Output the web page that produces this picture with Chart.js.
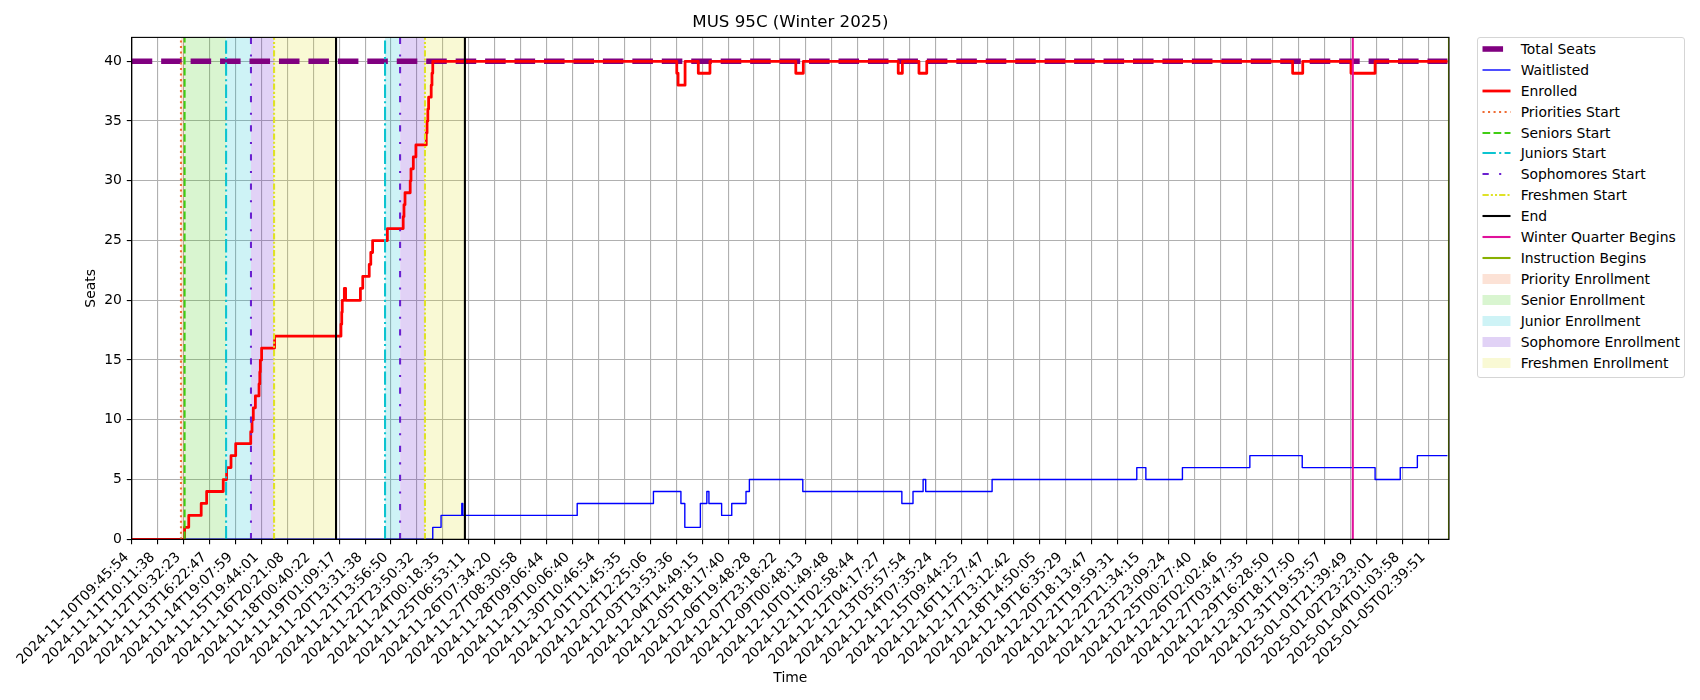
<!DOCTYPE html>
<html>
<head>
<meta charset="utf-8">
<title>MUS 95C (Winter 2025)</title>
<script src="https://cdn.jsdelivr.net/npm/chart.js@4/dist/chart.umd.js"></script>
<style>
  html, body { margin: 0; padding: 0; background: #fff; }
  #wrap { position: relative; width: 1700px; height: 700px; overflow: hidden; }
  #legend {
    position: absolute; left: 1476.7px; top: 37.3px; width: 206.5px; height: 338.5px;
    border: 1px solid #d5d5d5; border-radius: 3px; background: #fff;
    font: 13.9px "DejaVu Sans", sans-serif; color: #000;
  }
  .row { display: flex; align-items: center; height: 20.95px; padding-left: 4px; white-space: nowrap; }
  .row svg { flex: none; width: 29px; height: 12px; margin-right: 10px; }
</style>
</head>
<body>
<div id="wrap">
  <canvas id="chart" width="1700" height="700"></canvas>
  <div id="legend"></div>
</div>
<script>
// x values are positions along the axis, counted in tick labels (0 = first label)
const tickLabels = [
  '2024-11-10T09:45:54', '2024-11-11T10:11:38', '2024-11-12T10:32:23', '2024-11-13T16:22:47',
  '2024-11-14T19:07:59', '2024-11-15T19:44:01', '2024-11-16T20:21:08', '2024-11-18T00:40:22',
  '2024-11-19T01:09:17', '2024-11-20T13:31:38', '2024-11-21T13:56:50', '2024-11-22T23:50:32',
  '2024-11-24T00:18:35', '2024-11-25T06:53:11', '2024-11-26T07:34:20', '2024-11-27T08:30:58',
  '2024-11-28T09:06:44', '2024-11-29T10:06:40', '2024-11-30T10:46:54', '2024-12-01T11:45:35',
  '2024-12-02T12:25:06', '2024-12-03T13:53:36', '2024-12-04T14:49:15', '2024-12-05T18:17:40',
  '2024-12-06T19:48:28', '2024-12-07T23:18:22', '2024-12-09T00:48:13', '2024-12-10T01:49:48',
  '2024-12-11T02:58:44', '2024-12-12T04:17:27', '2024-12-13T05:57:54', '2024-12-14T07:35:24',
  '2024-12-15T09:44:25', '2024-12-16T11:27:47', '2024-12-17T13:12:42', '2024-12-18T14:50:05',
  '2024-12-19T16:35:29', '2024-12-20T18:13:47', '2024-12-21T19:59:31', '2024-12-22T21:34:15',
  '2024-12-23T23:09:24', '2024-12-25T00:27:40', '2024-12-26T02:02:46', '2024-12-27T03:47:35',
  '2024-12-29T16:28:50', '2024-12-30T18:17:50', '2024-12-31T19:53:57', '2025-01-01T21:39:49',
  '2025-01-02T23:23:01', '2025-01-04T01:03:58', '2025-01-05T02:39:51',
];

const xEnd = 50.8;
const lastSample = 50.74;
const totalSeats = 40;
const yTop = 42;

const enrolledX = [
  0, 2.04, 2.20, 2.68, 2.89, 3.53, 3.66, 3.83, 4.01, 4.59, 4.64, 4.69, 4.77, 4.91, 4.94, 4.96, 5.01, 5.51,
  8.07, 8.10, 8.12, 8.20, 8.25, 8.82, 8.91, 9.16, 9.22, 9.29, 9.86, 10.47, 10.50, 10.54, 10.74, 10.77, 10.86, 10.96,
  11.36, 11.39, 11.42, 11.45, 11.55, 11.58, 11.61, 21.02, 21.07, 21.34, 21.85, 22.30, 25.61, 25.90,
  29.56, 29.72, 30.36, 30.66, 44.77, 45.16, 47.02, 47.95, 50.74,
];
const enrolledY = [
  0, 1, 2, 3, 4, 5, 6, 7, 8, 9, 10, 11, 12, 13, 14, 15, 16, 17,
  18, 19, 20, 21, 20, 21, 22, 23, 24, 25, 26, 27, 28, 29, 30, 31, 32, 33,
  34, 35, 36, 37, 38, 39, 40, 39, 38, 40, 39, 40, 39, 40,
  39, 40, 39, 40, 39, 40, 39, 40, 40,
];

const waitlistX = [
  0, 11.61, 11.93, 12.73, 12.77, 17.18, 20.12, 21.18, 21.33, 21.93, 22.18, 22.26, 22.75, 23.14, 23.69, 23.82,
  25.88, 29.70, 30.13, 30.52, 30.62, 33.18, 38.76, 39.11, 40.52, 43.12, 45.14, 47.95, 48.92, 49.58, 50.74,
];
const waitlistY = [
  0, 1, 2, 3, 2, 3, 4, 3, 1, 3, 4, 3, 2, 3, 4, 5,
  4, 3, 4, 5, 4, 5, 6, 5, 6, 7, 6, 5, 6, 7, 7,
];

const prioritiesStart = [1.90];
const seniorsStart = [2.04];
const juniorsStart = [3.64, 9.77];
const sophomoresStart = [4.60, 10.35];
const freshmenStart = [5.49, 11.31];
const endMarks = [7.88, 12.85];
const winterBegins = [47.09];
const instructionBegins = [xEnd];

const ORANGE = '#ef6c33';
const GREEN = '#41cd14';
const CYAN = '#0cc4d0';
const VIOLET = '#6a20d0';
const YELLOW = '#dfe227';
const LW_MARK = 2.08;

const STYLES = {
  'Total Seats': { color: '#800080', width: 5.56, dash: [20.56, 8.89] },
  'Waitlisted': { color: '#0000ff', width: 1.39, dash: [] },
  'Enrolled': { color: '#ff0000', width: 2.78, dash: [] },
  'Priorities Start': { color: ORANGE, width: LW_MARK, dash: [2.08, 3.44] },
  'Seniors Start': { color: GREEN, width: LW_MARK, dash: [7.71, 3.33] },
  'Juniors Start': { color: CYAN, width: LW_MARK, dash: [13.33, 3.33, 2.08, 3.33] },
  'Sophomores Start': { color: VIOLET, width: LW_MARK, dash: [6.25, 10.4, 2.08, 10.4] },
  'Freshmen Start': { color: YELLOW, width: LW_MARK, dash: [6.25, 2.08, 2.08, 2.08, 2.08, 2.08] },
  'End': { color: '#000000', width: LW_MARK, dash: [] },
  'Winter Quarter Begins': { color: '#e0109a', width: LW_MARK, dash: [] },
  'Instruction Begins': { color: '#88b000', width: LW_MARK, dash: [] },
};
const SPAN_COLORS = {
  'Priority Enrollment': 'rgba(239,108,51,0.2)',
  'Senior Enrollment': 'rgba(65,205,20,0.2)',
  'Junior Enrollment': 'rgba(12,196,208,0.2)',
  'Sophomore Enrollment': 'rgba(106,32,208,0.2)',
  'Freshmen Enrollment': 'rgba(223,226,39,0.2)',
};

function lineSet(name, points, stepped) {
  const s = STYLES[name];
  return {
    label: name, data: points, borderColor: s.color, borderWidth: s.width, borderDash: s.dash,
    stepped: !!stepped, pointRadius: 0, fill: false, borderJoinStyle: 'round',
  };
}
function stepPoints(xs, ys) {
  return xs.map((x, i) => ({ x, y: ys[i] }));
}
function vlineSets(name, xs) {
  return xs.map((x) => lineSet(name, [{ x, y: 0 }, { x, y: yTop }]));
}
function spanSet(name, from, to) {
  return {
    label: name, data: [{ x: from, y: yTop }, { x: to, y: yTop }],
    borderWidth: 0, pointRadius: 0, fill: 'origin', backgroundColor: SPAN_COLORS[name],
  };
}

// list order = draw order, bottom first
const datasets = [
  spanSet('Priority Enrollment', prioritiesStart[0], seniorsStart[0]),
  spanSet('Senior Enrollment', seniorsStart[0], juniorsStart[0]),
  spanSet('Junior Enrollment', juniorsStart[0], sophomoresStart[0]),
  spanSet('Sophomore Enrollment', sophomoresStart[0], freshmenStart[0]),
  spanSet('Freshmen Enrollment', freshmenStart[0], endMarks[0]),
  spanSet('Junior Enrollment', juniorsStart[1], sophomoresStart[1]),
  spanSet('Sophomore Enrollment', sophomoresStart[1], freshmenStart[1]),
  spanSet('Freshmen Enrollment', freshmenStart[1], endMarks[1]),
  lineSet('Total Seats', [{ x: 0, y: totalSeats }, { x: lastSample, y: totalSeats }]),
  lineSet('Waitlisted', stepPoints(waitlistX, waitlistY), true),
  lineSet('Enrolled', stepPoints(enrolledX, enrolledY), true),
  ...vlineSets('Priorities Start', prioritiesStart),
  ...vlineSets('Seniors Start', seniorsStart),
  ...vlineSets('Juniors Start', juniorsStart),
  ...vlineSets('Sophomores Start', sophomoresStart),
  ...vlineSets('Freshmen Start', freshmenStart),
  ...vlineSets('End', endMarks),
  ...vlineSets('Winter Quarter Begins', winterBegins),
  ...vlineSets('Instruction Begins', instructionBegins),
];
datasets.forEach((d, i) => { d.order = datasets.length - i; });

// top and right spines, chart.js only draws the axis borders
const framePlugin = {
  id: 'frame',
  afterDatasetsDraw(chart) {
    const { ctx, chartArea: a } = chart;
    ctx.save();
    ctx.strokeStyle = '#000';
    ctx.lineWidth = 1.11;
    ctx.strokeRect(a.left, a.top, a.right - a.left, a.bottom - a.top);
    ctx.restore();
  },
};

Chart.defaults.font.family = "'DejaVu Sans', sans-serif";
Chart.defaults.font.size = 13.9;
Chart.defaults.color = '#000';

new Chart(document.getElementById('chart'), {
  type: 'line',
  data: { datasets },
  plugins: [framePlugin],
  options: {
    responsive: false,
    animation: false,
    layout: { padding: { left: 80, right: 251, top: 0, bottom: 10 } },
    plugins: {
      legend: { display: false },
      tooltip: { enabled: false },
      title: {
        display: true, text: 'MUS 95C (Winter 2025)', fullSize: false,
        font: { size: 16.67, weight: 'normal' }, padding: { top: 12.7, bottom: 4.7 },
      },
    },
    scales: {
      x: {
        type: 'linear', min: 0, max: xEnd,
        afterBuildTicks: (scale) => { scale.ticks = tickLabels.map((_, i) => ({ value: i })); },
        afterFit: (scale) => { scale.height = 150.7; },
        ticks: {
          autoSkip: false, minRotation: 45, maxRotation: 45, padding: 5, labelOffset: -5,
          callback: (v) => tickLabels[v],
        },
        grid: { color: '#b0b0b0', lineWidth: 1.11, tickColor: '#000', tickWidth: 1.11, tickLength: 4.9 },
        border: { color: '#000', width: 1.11 },
        title: { display: true, text: 'Time', padding: { top: 0, bottom: 3 } },
      },
      y: {
        min: 0, max: yTop,
        afterFit: (scale) => { scale.width = 51.7; },
        ticks: { stepSize: 5, includeBounds: false, padding: 4.9 },
        grid: { color: '#b0b0b0', lineWidth: 1.11, tickColor: '#000', tickWidth: 1.11, tickLength: 4.9 },
        border: { color: '#000', width: 1.11 },
        title: { display: true, text: 'Seats', padding: { top: 3, bottom: 0 } },
      },
    },
  },
});

// legend sits outside the axes, so it is a plain html block
function legendSample(name) {
  if (SPAN_COLORS[name]) {
    return `<svg viewBox="0 0 29 12"><rect x="0.5" y="1" width="28" height="10" fill="${SPAN_COLORS[name]}"/></svg>`;
  }
  const s = STYLES[name];
  return `<svg viewBox="0 0 29 12"><line x1="0.5" y1="6" x2="28.5" y2="6" stroke="${s.color}" stroke-width="${s.width}" stroke-dasharray="${s.dash.join(' ')}"/></svg>`;
}
document.getElementById('legend').innerHTML = [...Object.keys(STYLES), ...Object.keys(SPAN_COLORS)]
  .map((name) => `<div class="row">${legendSample(name)}<span>${name}</span></div>`)
  .join('');
</script>
</body>
</html>
